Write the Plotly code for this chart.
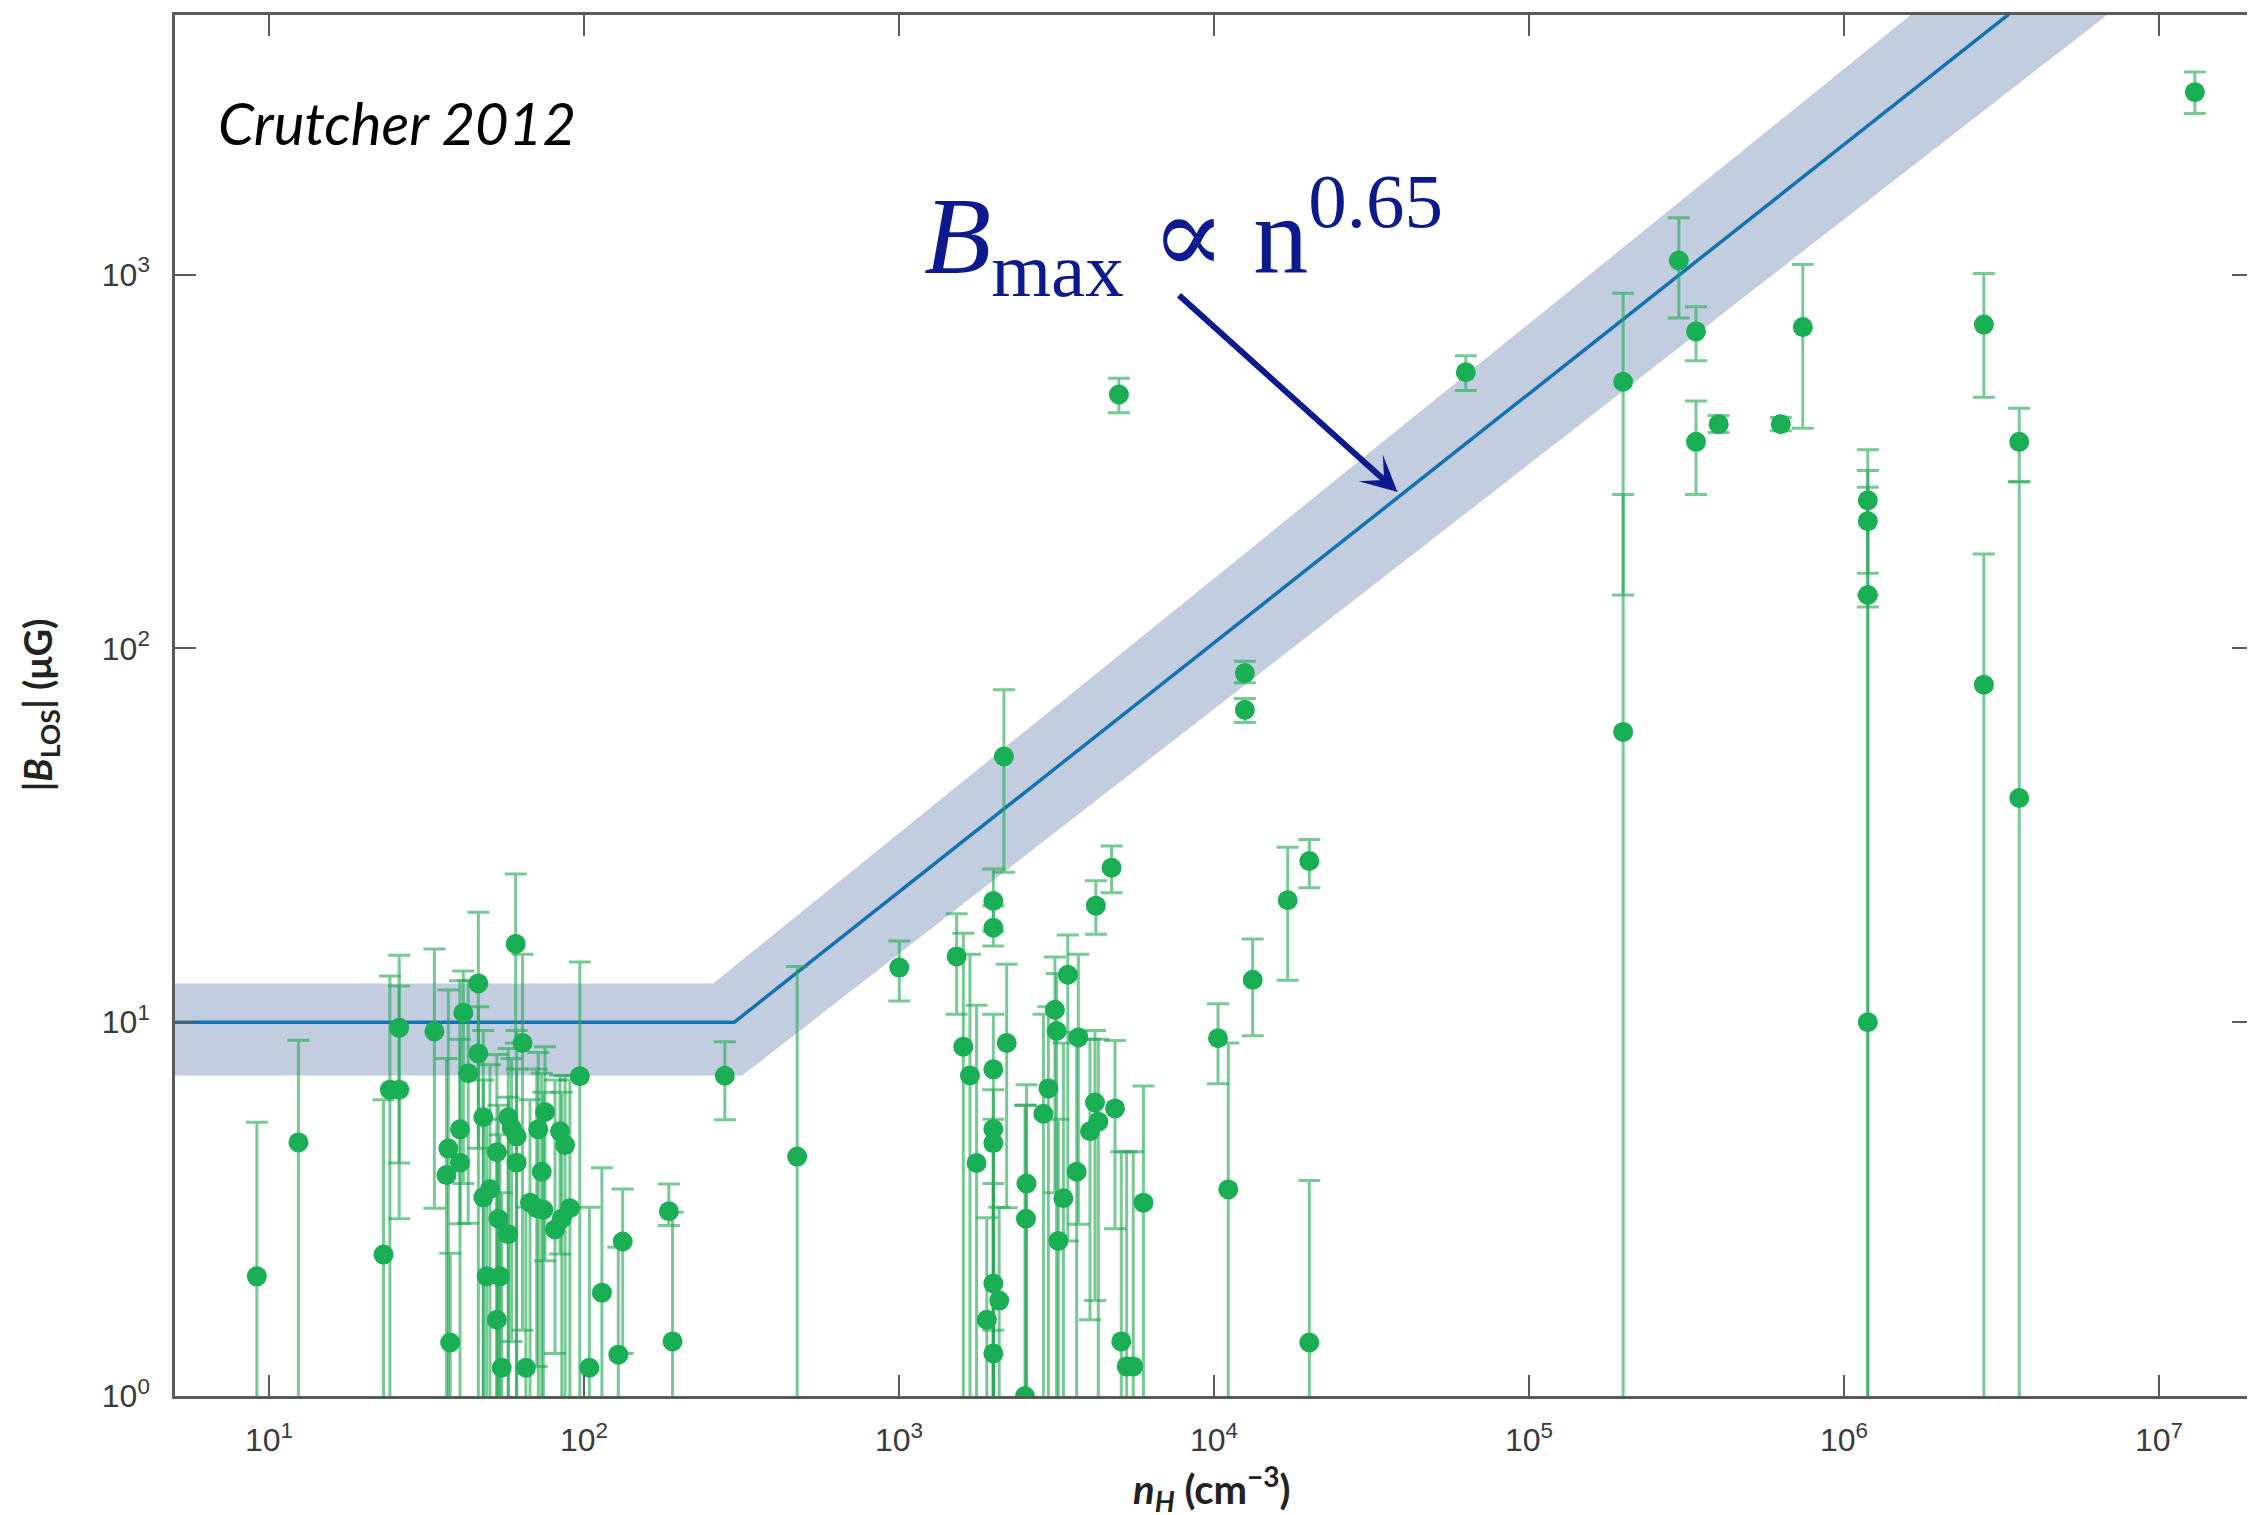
import plotly.graph_objects as go

# ---------------- data ----------------
n_H = [9.15, 12.4, 23.1, 24.2, 25.9, 25.9, 33.5, 37.6, 36.6, 37.1,
       40.4, 40.4, 41.4, 42.9, 46.2, 46.2, 47.9, 47.9, 50.3, 52.9,
       53.5, 49.1, 54.1, 52.9, 54.8, 57.5, 57.5, 58.9, 61.1, 60.7,
       61.1, 63.8, 65.4, 67.4, 70.8, 71.6, 73.4, 75.2, 74.3, 80.9,
       83.9, 87.1, 85.0, 90.2, 97.0, 104, 114, 128.5, 132.7, 186,
       191, 280, 475,
       1002, 1524, 1600, 1680, 1763, 2153, 1993, 1993, 1993, 2197,
       1993, 1993, 1993, 2080, 1900, 1993, 2512, 2540, 2530, 2980,
       2873, 3126, 3165, 3205, 3326, 3435, 3710, 3665, 4190, 4293,
       4040, 4217, 4730, 4850, 5076, 5280, 5540, 5970,
       10300, 11100, 13270, 12530, 12530, 17140, 20070, 20070,
       4990, 63000, 1.99e5, 1.99e5, 2.99e5, 3.39e5, 3.39e5, 4.0e5, 6.3e5, 7.4e5,
       1.19e6, 1.19e6, 1.19e6, 1.19e6, 2.78e6, 2.78e6, 3.6e6, 3.6e6, 1.3e7]
B_los = [2.09, 4.77, 2.39, 6.6, 6.6, 9.66, 9.45, 1.39, 3.9, 4.59,
         5.17, 4.21, 10.6, 7.3, 12.7, 8.25, 5.57, 3.4, 3.58, 4.49,
         2.98, 2.09, 2.09, 1.6, 1.19, 2.71, 5.57, 5.22, 4.95, 16.2,
         4.21, 8.8, 1.19, 3.29, 3.18, 5.17, 3.98, 5.75, 3.15, 2.79,
         5.11, 4.69, 2.98, 3.18, 7.17, 1.19, 1.89, 1.29, 2.59, 3.12,
         1.4, 7.19, 4.37,
         14.0, 15.0, 8.6, 7.2, 4.2, 51.4, 21.1, 17.9, 7.48, 8.8,
         5.18, 4.75, 2.0, 1.8, 1.6, 1.3, 1.0, 3.7, 2.98, 6.65,
         5.69, 10.8, 9.47, 2.6, 3.38, 13.4, 9.1, 3.98, 6.1, 5.42,
         5.11, 20.5, 25.9, 5.88, 1.4, 1.2, 1.2, 3.29,
         9.06, 3.57, 12.98, 85.9, 68.5, 21.2, 27.0, 1.39,
         478, 548, 517, 59.8, 1091, 705, 357, 398, 398, 724,
         249, 219, 139, 10.0, 735, 80, 357, 39.8, 3077]
B_hi = [5.4, 8.95, 6.2, 13.3, 12.5, 15.1, 15.7, 2.41, 8.0, 12.2,
        12.9, 9.0, 13.7, 12.9, 19.7, 11.0, 9.5, 7.0, 7.7, 8.2,
        6.0, 5.5, 5.0, 4.5, 3.5, 6.3, 8.5, 8.0, 9.5, 24.9,
        7.5, 15.2, 3.2, 6.2, 7.5, 8.3, 7.3, 8.6, 6.5, 7.0,
        7.2, 7.2, 6.5, 7.0, 14.5, 3.2, 4.08, 2.5, 3.58, 3.69,
        3.1, 8.87, 14.1,
        16.5, 19.5, 17.3, 15.2, 11.1, 77.5, 25.7, 20.5, 10.5, 14.3,
        6.6, 5.5, 3.7, 3.2, 3.0, 1.5, 6.0, 6.8, 6.0, 11.0,
        10.5, 14.95, 13.5, 5.5, 8.8, 17.1, 15.2, 9.4, 9.5, 9.0,
        9.0, 23.9, 29.6, 8.93, 4.5, 4.5, 4.5, 6.75,
        11.2, 8.8, 16.7, 92.4, 73.5, 29.4, 30.8, 3.77,
        528, 607, 891, 258, 1420, 820, 459, 420, 415, 1065,
        340, 299, 270, 139, 1007, 179, 439, 279, 3483]
B_lo = [0, 0, 0, 0, 2.98, 4.2, 3.18, 0, 0, 0,
        2.89, 0, 3.7, 2.9, 4.6, 0, 0, 0, 0, 0,
        0, 0, 0, 0, 0, 0, 0, 1.4, 0, 8.8,
        0, 1.5, 0, 0, 1.2, 0, 0, 2.3, 0, 1.3,
        2.4, 0, 0, 0, 0, 0, 0, 0, 1.3, 2.86,
        0, 5.48, 0,
        11.4, 10.5, 0, 0, 0, 25.2, 17.5, 16.0, 0, 3.19,
        0, 0, 0, 0, 0, 0, 0, 0, 0, 0,
        0, 3.5, 0, 0, 0, 2.6, 2.88, 0, 1.8, 0,
        1.6, 17.2, 22.2, 2.8, 0, 0, 0, 0,
        6.85, 0, 9.2, 81, 63.4, 12.95, 22.9, 0,
        427, 490, 139, 0, 766, 588, 258, 378, 382, 388,
        159, 0, 129, 0, 470, 0, 279, 0, 2699]

# model line and its band (vertices)
line_n = [4, 300, 3.34e6]
line_B = [10, 10, 4977]
band_n = [4, 257, 1.64e6, 6.9e6, 318, 4]
band_B = [12.7, 12.7, 4977, 4977, 7.2, 7.2]

x_tick_vals = [1e1, 1e2, 1e3, 1e4, 1e5, 1e6, 1e7]
x_tick_text = ["10<sup>1</sup>", "10<sup>2</sup>", "10<sup>3</sup>", "10<sup>4</sup>",
               "10<sup>5</sup>", "10<sup>6</sup>", "10<sup>7</sup>"]
y_tick_vals = [1, 10, 100, 1000]
y_tick_text = ["10<sup>0</sup>", "10<sup>1</sup>", "10<sup>2</sup>", "10<sup>3</sup>"]

# ---------------- figure ----------------
err_plus = [h - b for h, b in zip(B_hi, B_los)]
err_minus = [b - l for b, l in zip(B_los, B_lo)]

fig = go.Figure()

fig.add_trace(go.Scatter(
    x=band_n, y=band_B, mode="lines", fill="toself",
    fillcolor="#c2cee0", line=dict(width=0, color="#c2cee0"),
    hoverinfo="skip", showlegend=False))

fig.add_trace(go.Scatter(
    x=line_n, y=line_B, mode="lines",
    line=dict(color="#1472b0", width=3.5),
    hoverinfo="skip", showlegend=False))

# error bars (drawn first, markers on top)
fig.add_trace(go.Scatter(
    x=n_H, y=B_los, mode="markers",
    marker=dict(size=1, color="rgba(0,0,0,0)"),
    error_y=dict(type="data", symmetric=False, array=err_plus, arrayminus=err_minus,
                 color="rgba(35,170,85,0.62)", thickness=3, width=11),
    hoverinfo="skip", showlegend=False))

fig.add_trace(go.Scatter(
    x=n_H, y=B_los, mode="markers",
    marker=dict(size=20, color="#1aae55", line=dict(width=0)),
    showlegend=False))

axis_common = dict(
    type="log", showline=True, linecolor="#5a5a5a", linewidth=2.5, mirror="ticks",
    ticks="inside", ticklen=21, tickwidth=2, tickcolor="#5a5a5a",
    showgrid=False, zeroline=False,
    tickfont=dict(family="Liberation Sans Narrow, Liberation Sans, Arial", size=32, color="#3a3a3a"),
)

# the page adds an 8 px body margin, so the margins are reduced by 8 px
fig.update_layout(
    width=2255, height=1515,
    margin=dict(l=167, r=10, t=4, b=127),
    paper_bgcolor="white", plot_bgcolor="white",
    xaxis=dict(range=[0.7016, 7.2984], tickvals=x_tick_vals, ticktext=x_tick_text,
               ticklabelstandoff=14, **axis_common),
    yaxis=dict(range=[0.0, 3.6946], tickvals=y_tick_vals, ticktext=y_tick_text,
               ticklabelstandoff=16, **axis_common),
    showlegend=False,
)

fig.add_annotation(
    xref="paper", yref="paper", x=0.499, y=-0.0668, xanchor="center", yanchor="middle",
    text="<b><i>n</i><sub><i>H</i></sub> (cm<sup>−3</sup>)</b>", showarrow=False,
    font=dict(family="Lato, Open Sans, sans-serif", size=40, color="#222"))

fig.add_annotation(
    xref="paper", yref="paper", x=-0.0654, y=0.5, xanchor="center", yanchor="middle",
    textangle=-90,
    text="<b>|<i>B</i><sub>LOS</sub>| (μG)</b>", showarrow=False,
    font=dict(family="Lato, Open Sans, sans-serif", size=38, color="#222"))

fig.add_annotation(
    xref="paper", yref="paper", x=0.0195, y=0.922, xanchor="left", yanchor="middle",
    text="<i>Crutcher 2012</i>", showarrow=False,
    font=dict(family="Lato, sans-serif", size=58, color="black"))

fig.add_annotation(
    xref="paper", yref="paper", x=0.3595, y=0.8404, xanchor="left", yanchor="middle",
    text="<i>B</i><sub>max</sub> ∝ n<sup>0.65</sup>", showarrow=False,
    font=dict(family="Liberation Serif, DejaVu Serif, serif", size=110, color="#0d1a8e"))

# arrow pointing at the model line
fig.add_annotation(
    xref="x", yref="y", x=4.5825, y=2.4186, axref="pixel", ayref="pixel",
    ax=-220, ay=-198, text="", showarrow=True,
    arrowhead=3, arrowsize=1.0, arrowwidth=6, arrowcolor="#0d1a8e")

fig.write_html("out.html")
